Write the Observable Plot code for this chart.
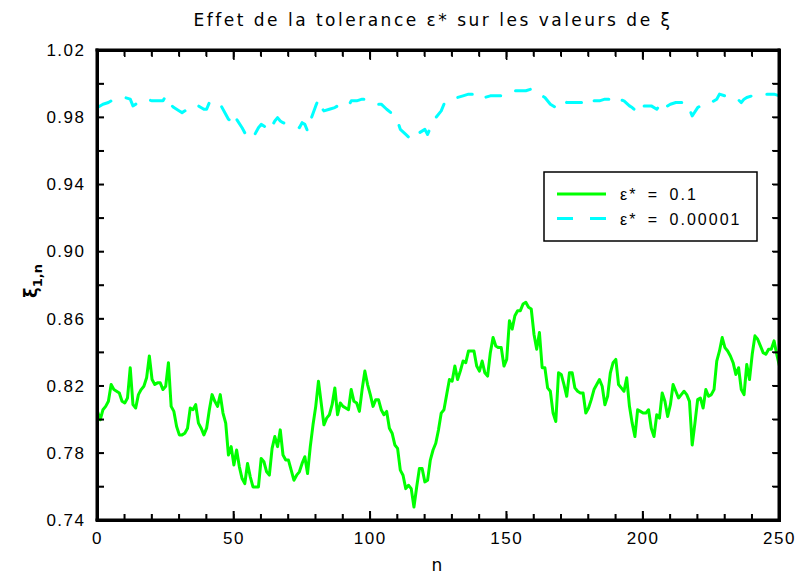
<!DOCTYPE html>
<html><head><meta charset="utf-8">
<script src="https://cdn.jsdelivr.net/npm/d3@7"></script>
<script src="https://cdn.jsdelivr.net/npm/@observablehq/plot@0.6"></script>
<style>body{margin:0;background:#fff} #chart{width:798px;height:576px}</style>
</head><body><div id="chart"></div>
<script>
// ---- data ----
const xiGreen = [
0.805,0.800,0.806,0.808,0.811,0.821,0.818,0.817,0.816,0.811,
0.810,0.813,0.831,0.809,0.807,0.815,0.818,0.820,0.825,0.838,
0.824,0.821,0.822,0.822,0.818,0.820,0.834,0.808,0.805,0.796,
0.791,0.791,0.792,0.795,0.807,0.806,0.809,0.798,0.795,0.791,
0.795,0.806,0.815,0.811,0.808,0.815,0.804,0.798,0.779,0.784,
0.773,0.782,0.772,0.765,0.762,0.774,0.766,0.760,0.760,0.760,
0.777,0.775,0.769,0.767,0.783,0.790,0.784,0.794,0.779,0.776,
0.776,0.770,0.764,0.767,0.769,0.774,0.778,0.768,0.784,0.797,
0.808,0.823,0.810,0.797,0.801,0.803,0.809,0.819,0.803,0.810,
0.808,0.807,0.806,0.818,0.811,0.810,0.805,0.818,0.829,0.821,
0.815,0.808,0.812,0.812,0.806,0.803,0.805,0.795,0.792,0.785,
0.783,0.770,0.767,0.759,0.761,0.759,0.748,0.760,0.771,0.771,
0.763,0.764,0.776,0.782,0.786,0.794,0.804,0.806,0.815,0.824,
0.823,0.832,0.824,0.829,0.835,0.834,0.841,0.841,0.841,0.832,
0.829,0.835,0.828,0.826,0.840,0.849,0.844,0.843,0.843,0.832,
0.836,0.859,0.854,0.862,0.865,0.865,0.869,0.870,0.867,0.866,
0.851,0.842,0.852,0.831,0.831,0.819,0.817,0.804,0.799,0.828,
0.827,0.821,0.814,0.828,0.828,0.819,0.817,0.816,0.816,0.804,
0.807,0.812,0.818,0.821,0.824,0.820,0.809,0.814,0.828,0.834,
0.836,0.821,0.819,0.817,0.825,0.808,0.798,0.790,0.806,0.805,
0.804,0.804,0.806,0.795,0.790,0.803,0.801,0.816,0.811,0.802,
0.809,0.821,0.817,0.813,0.815,0.817,0.815,0.811,0.785,0.798,
0.812,0.813,0.807,0.818,0.814,0.815,0.818,0.835,0.841,0.849,
0.843,0.841,0.838,0.834,0.827,0.831,0.818,0.815,0.833,0.824,
0.839,0.850,0.848,0.844,0.840,0.839,0.842,0.842,0.847,0.839,
0.832];
const nGreen = xiGreen.map((_, i) => i);

const nCyan = [0,2,4,6,8,10,12,13,14,16,18,20,22,24,25,26,28,30,31,33,34,35,37,39,40,41,43,45,47,48,49,50,51,53,54,56,57,59,60,61,62,63,65,66,67,68,70,72,74,75,76,77,78,80,81,82,83,85,87,88,90,92,93,95,97,98,100,102,104,106,109,110,111,113,115,116,118,120,121,122,124,126,127,128,130,132,134,136,138,139,140,142,144,146,148,149,150,152,155,157,159,161,162,164,166,168,170,171,172,174,176,178,179,181,182,184,186,188,190,191,193,195,196,198,199,200,201,203,205,207,208,210,212,214,216,217,218,220,222,223,225,227,228,230,232,234,236,237,238,240,242,245,247,248,250];
const xiCyan = [0.986,0.988,0.989,0.991,0.991,0.992,0.991,0.987,0.988,0.990,0.991,0.990,0.990,0.990,0.993,0.989,0.986,0.984,0.983,0.985,0.987,0.987,0.987,0.985,0.985,0.989,0.987,0.988,0.982,0.979,0.978,0.975,0.979,0.974,0.971,0.971,0.968,0.974,0.976,0.975,0.974,0.972,0.978,0.980,0.978,0.977,0.976,0.975,0.974,0.977,0.976,0.972,0.978,0.987,0.991,0.986,0.984,0.985,0.986,0.987,0.988,0.987,0.990,0.990,0.991,0.991,0.989,0.988,0.988,0.985,0.981,0.978,0.973,0.970,0.967,0.967,0.971,0.973,0.970,0.974,0.980,0.984,0.988,0.990,0.991,0.992,0.993,0.994,0.994,0.992,0.993,0.992,0.993,0.993,0.993,0.994,0.995,0.996,0.996,0.996,0.997,0.994,0.994,0.992,0.988,0.986,0.990,0.990,0.989,0.989,0.989,0.989,0.987,0.988,0.990,0.990,0.991,0.991,0.993,0.991,0.990,0.987,0.986,0.983,0.987,0.987,0.987,0.987,0.985,0.989,0.986,0.988,0.989,0.989,0.989,0.985,0.981,0.986,0.988,0.989,0.989,0.991,0.994,0.993,0.992,0.992,0.989,0.991,0.992,0.993,0.993,0.994,0.994,0.994,0.993];

const xTicks = [0,10,20,30,40,50,60,70,80,90,100,110,120,130,140,150,160,170,180,190,200,210,220,230,240,250];
const xMajor = [0,50,100,150,200,250];
const yTicks = [0.74,0.76,0.78,0.80,0.82,0.84,0.86,0.88,0.90,0.92,0.94,0.96,0.98,1.00,1.02];
const yLabels = [0.74,0.78,0.82,0.86,0.90,0.94,0.98,1.02];

const seriesLabels = ["ε* = 0.1", "ε* = 0.00001"];
const seriesColors = ["#00ff00", "#00ffff"];
const titleText = "Effet de la tolerance ε* sur les valeurs de ξ";

const green = nGreen.map((n, i) => ({n, xi: xiGreen[i]}));
const cyan = nCyan.map((n, i) => ({n, xi: xiCyan[i]}));
const blank = () => "";
const tk = {stroke: "black", strokeWidth: 1.5, label: null, tickFormat: blank};

const chart = Plot.plot({
  width: 798, height: 576,
  marginLeft: 97, marginRight: 19, marginTop: 50, marginBottom: 56,
  x: {domain: [0, 250]},
  y: {domain: [0.74, 1.02]},
  marks: [
    Plot.line(green, {x: "n", y: "xi", stroke: seriesColors[0], strokeWidth: 3}),
    Plot.line(cyan, {x: "n", y: "xi", stroke: seriesColors[1], strokeWidth: 3, strokeDasharray: "15,16"}),
    Plot.axisX(xTicks, {...tk, anchor: "bottom", tickSize: 6, dy: -6}),
    Plot.axisX(xMajor, {...tk, anchor: "bottom", tickSize: 9, dy: -9}),
    Plot.axisX(xTicks, {...tk, anchor: "top", tickSize: 6, dy: 6}),
    Plot.axisX(xMajor, {...tk, anchor: "top", tickSize: 9, dy: 9}),
    Plot.axisY(yTicks, {...tk, anchor: "left", tickSize: 7, dx: 7}),
    Plot.axisY(yTicks, {...tk, anchor: "right", tickSize: 7, dx: -7}),
    Plot.axisX(xMajor, {anchor: "bottom", tickSize: 0, tickPadding: 11, label: null, fontSize: 17}),
    Plot.axisY(yLabels, {anchor: "left", tickSize: 0, tickPadding: 12, tickFormat: d3.format(".2f"), label: null, fontSize: 17}),
    Plot.frame({stroke: "black", strokeWidth: 3})
  ]
});

const svg = d3.select(chart).attr("font-family", "'Liberation Sans', Arial, sans-serif");
svg.selectAll("text").style("letter-spacing", "1.5px");

// title
svg.append("text").attr("x", 433).attr("y", 26).attr("text-anchor", "middle")
  .style("font-family", "'DejaVu Sans', sans-serif").style("font-size", "17px")
  .style("letter-spacing", "2.5px").text(titleText);

// x label
svg.append("text").attr("x", 437).attr("y", 571).attr("text-anchor", "middle")
  .style("font-family", "'DejaVu Sans', sans-serif").style("font-size", "17px").text("n");

// y label
const yl = svg.append("text").attr("transform", "translate(37,281) rotate(-90)")
  .attr("text-anchor", "middle").style("font-family", "'DejaVu Sans', sans-serif")
  .style("font-size", "18px").style("font-weight", "bold");
yl.append("tspan").text("ξ");
yl.append("tspan").attr("dy", 5).style("font-size", "13px").text("1,n");

// legend
const lg = svg.append("g").style("font-family", "'Liberation Sans', Arial, sans-serif").style("font-size", "16px");
lg.append("rect").attr("x", 544).attr("y", 172).attr("width", 213).attr("height", 69)
  .style("fill", "#fff").style("stroke", "#000").style("stroke-width", "1.5px");
seriesLabels.forEach((lab, i) => {
  const yy = 194 + i * 24.5;
  lg.append("path").attr("d", `M557,${yy}H606`)
    .style("stroke", seriesColors[i]).style("stroke-width", "3px")
    .style("stroke-dasharray", i === 1 ? "16,17" : "none");
  lg.append("text").attr("x", 620).attr("y", yy + 6).attr("text-anchor", "start")
    .style("letter-spacing", "2px").style("word-spacing", "4px").text(lab);
});

// reinforce box and ticks as filled shapes placed with the chart's scales
const xs = chart.scale("x"), ys = chart.scale("y");
const X = v => xs.apply(v), Y = v => ys.apply(v);
const x0 = X(0), x1 = X(250), y0 = Y(0.74), y1 = Y(1.02);
const bx = svg.append("g").style("fill", "#000").style("stroke", "none");
const bar = (x, y, w, h) => bx.append("rect").attr("x", x).attr("y", y).attr("width", w).attr("height", h);
bar(x0 - 1.5, y1 - 1.5, x1 - x0 + 3, 3);
bar(x0 - 1.5, y0 - 1.5, x1 - x0 + 3, 3);
bar(x0 - 1.5, y1 - 1.5, 3, y0 - y1 + 3);
bar(x1 - 1.5, y1 - 1.5, 3, y0 - y1 + 3);
xTicks.forEach(t => {
  const len = xMajor.includes(t) ? 9 : 6;
  bar(X(t) - 0.75, y0 - len, 1.5, len);
  bar(X(t) - 0.75, y1, 1.5, len);
});
yTicks.forEach(t => {
  bar(x0, Y(t) - 0.75, 7, 1.5);
  bar(x1 - 7, Y(t) - 0.75, 7, 1.5);
});

document.getElementById("chart").appendChild(chart);
</script>
</body></html>
